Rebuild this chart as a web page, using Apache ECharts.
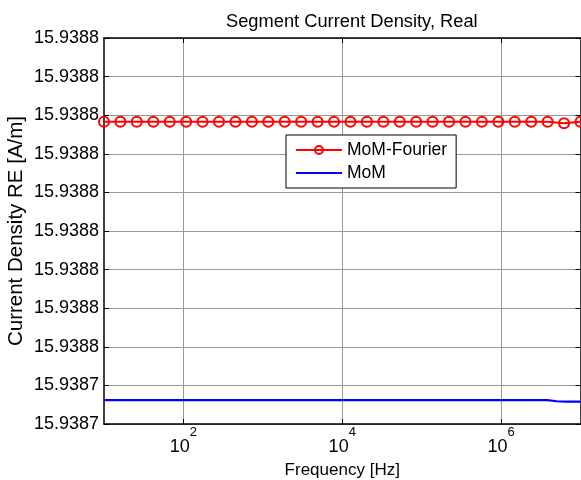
<!DOCTYPE html>
<html>
<head>
<meta charset="utf-8">
<script src="https://cdn.jsdelivr.net/npm/echarts@6/dist/echarts.min.js"></script>
<style>
html,body{margin:0;padding:0;background:#fff;}
#chart{width:581px;height:480px;}
</style>
</head>
<body>
<div id="chart"></div>
<script>
// ---- data ----
var titleText = 'Segment Current Density, Real';
var xName = 'Frequency [Hz]';
var yName = 'Current Density RE [A/m]';
var seriesNames = ['MoM-Fourier', 'MoM'];
// x tick positions (labelled decades) [Hz]
var xTicks = [100, 10000, 1000000];
// frequencies of the marked (MoM-Fourier) samples [Hz]
var fourierFreq = [10, 16.1, 25.9, 41.8, 67.2, 108.3, 174.3, 280.7, 452.0, 727.9,
  1172, 1887, 3039, 4894, 7880, 12690, 20434, 32903, 52983, 85317,
  137382, 221222, 356225, 573615, 923671, 1487352, 2395027, 3856620, 6210169, 10000000];
var fourierVal = [15.93875583, 15.93875583, 15.93875583, 15.93875583, 15.93875583,
  15.93875583, 15.93875583, 15.93875583, 15.93875583, 15.93875583,
  15.93875583, 15.93875583, 15.93875583, 15.93875583, 15.93875583,
  15.93875583, 15.93875583, 15.93875583, 15.93875583, 15.93875583,
  15.93875583, 15.93875583, 15.93875583, 15.93875583, 15.93875583,
  15.93875583, 15.93875583, 15.93875583, 15.93875579, 15.93875583];
var momFreq = [10, 1000, 100000, 1000000, 3840000, 5000000, 6470000, 10000000];
var momVal = [15.93874862, 15.93874862, 15.93874862, 15.93874862, 15.93874862, 15.93874859, 15.93874858, 15.93874858];
var yMin = 15.938748, yMax = 15.938758, yStep = 0.000001;
var xMin = 10, xMax = 10000000;

function pairs(xs, ys) { return xs.map(function (x, i) { return [x, ys[i]]; }); }

var FONT = 'Liberation Sans, Arial, sans-serif';
var chart = echarts.init(document.getElementById('chart'), null, {renderer: 'canvas'});

function xLabel(v) {
  var e = Math.round(Math.log(v) / Math.LN10);
  return '{b|10}{s|' + e + '}';
}
function yLabel(v) {
  return (Math.round(v * 1e4 + 1e-6) / 1e4).toFixed(4);
}

var axisLineStyle = {color: '#000', width: 1.5};
chart.setOption({
  animation: false,
  backgroundColor: '#fff',
  title: {
    text: titleText, left: 221, top: 8,
    textStyle: {fontFamily: FONT, fontSize: 18.3, fontWeight: 'normal', color: '#000'}
  },
  legend: {
    orient: 'vertical', left: 286, top: 135,
    padding: [6, 9, 6, 9], itemGap: 5, itemWidth: 46, itemHeight: 10,
    backgroundColor: '#fff', borderColor: '#000', borderWidth: 1,
    textStyle: {fontFamily: FONT, fontSize: 17.5, color: '#000', lineHeight: 18},
    data: [
      {name: seriesNames[0]},
      {name: seriesNames[1], itemStyle: {color: 'rgba(0,0,0,0)', borderWidth: 0}}
    ]
  },
  grid: {left: 104, right: 0.5, top: 38, bottom: 56, containLabel: false, outerBoundsMode: 'none'},
  xAxis: [{
    type: 'log', logBase: 10, min: xMin, max: xMax,
    name: xName, nameLocation: 'middle', nameGap: 38, nameMoveOverlap: false,
    nameTextStyle: {fontFamily: FONT, fontSize: 17, color: '#000'},
    axisLine: {show: true, lineStyle: axisLineStyle},
    axisTick: {show: true, inside: true, length: 5, customValues: xTicks, lineStyle: {color: '#000'}},
    minorTick: {show: false},
    splitLine: {show: true, lineStyle: {color: '#999', width: 1}},
    axisLabel: {
      formatter: xLabel, margin: 2, color: '#000', customValues: xTicks,
      rich: {
        b: {fontFamily: FONT, fontSize: 18, color: '#000', verticalAlign: 'bottom', lineHeight: 18},
        s: {fontFamily: FONT, fontSize: 13, color: '#000', verticalAlign: 'top', lineHeight: 30}
      }
    }
  }, {
    type: 'log', logBase: 10, min: xMin, max: xMax, position: 'top',
    axisLine: {show: true, lineStyle: axisLineStyle},
    axisTick: {show: true, inside: true, length: 5, customValues: xTicks, lineStyle: {color: '#000'}},
    splitLine: {show: false}, axisLabel: {show: false}
  }],
  yAxis: [{
    type: 'value', min: yMin, max: yMax, interval: yStep,
    name: yName, nameLocation: 'middle', nameGap: 77, nameRotate: 90, nameMoveOverlap: false,
    nameTextStyle: {fontFamily: FONT, fontSize: 20.5, color: '#000'},
    axisLine: {show: true, lineStyle: axisLineStyle},
    axisTick: {show: true, inside: true, length: 5, lineStyle: {color: '#000'}},
    splitLine: {show: true, lineStyle: {color: '#999', width: 1}},
    axisLabel: {formatter: yLabel, fontFamily: FONT, fontSize: 18, color: '#000', margin: 5, padding: [5, 0, 0, 0]}
  }, {
    type: 'value', min: yMin, max: yMax, interval: yStep, position: 'right',
    axisLine: {show: true, lineStyle: axisLineStyle},
    axisTick: {show: true, inside: true, length: 5, lineStyle: {color: '#000'}},
    splitLine: {show: false}, axisLabel: {show: false}
  }],
  series: [{
    name: seriesNames[0], type: 'line', data: pairs(fourierFreq, fourierVal),
    xAxisIndex: 0, yAxisIndex: 0,
    symbol: 'circle', symbolSize: 10, showSymbol: true,
    lineStyle: {color: '#ff0000', width: 2},
    itemStyle: {color: 'rgba(0,0,0,0)', borderColor: '#ff0000', borderWidth: 2},
    color: '#ff0000', z: 3
  }, {
    name: seriesNames[1], type: 'line', data: pairs(momFreq, momVal),
    xAxisIndex: 0, yAxisIndex: 0,
    symbol: 'none', lineStyle: {color: '#0000ff', width: 2.2},
    itemStyle: {color: '#0000ff'}, color: '#0000ff', z: 2
  }]
});
</script>
</body>
</html>
